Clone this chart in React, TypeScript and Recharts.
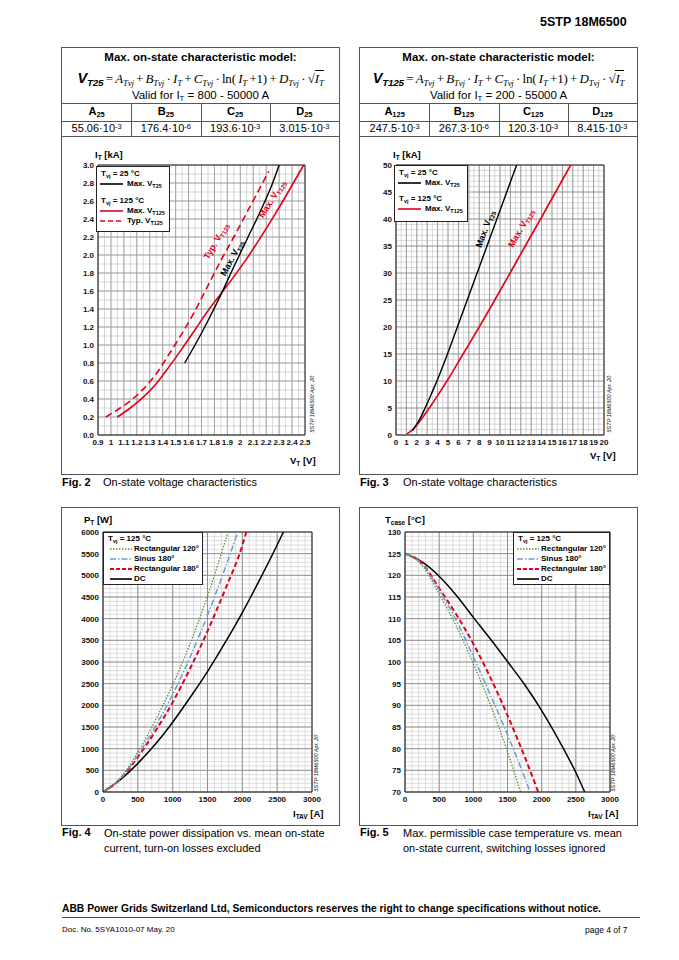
import React from 'react';
import { LineChart, Line, XAxis, YAxis, ReferenceLine } from 'recharts';

const FONT = '"Liberation Sans", Arial, Helvetica, sans-serif';
const SERIF = '"Liberation Serif", "Times New Roman", serif';
const RED = '#e2001a';
const GREEN = '#5f8f3c';
const BLUE = '#6f9bd1';

type Pt = [number, number];

// Fig. 2: on-state voltage V_T [V] vs I_T [kA], low current range
const fig2MaxT25: Pt[] = [
  [1.57, 0.8], [1.65, 1.0], [1.75, 1.27], [1.85, 1.56], [1.95, 1.87], [2.05, 2.17], [2.15, 2.47],
  [2.25, 2.8], [2.3, 3.0],
];
const fig2MaxT125: Pt[] = [
  [1.05, 0.2], [1.15, 0.3], [1.25, 0.42], [1.35, 0.57], [1.45, 0.76], [1.55, 0.96], [1.65, 1.17],
  [1.75, 1.38], [1.85, 1.57], [1.95, 1.76], [2.05, 1.96], [2.15, 2.18], [2.25, 2.41], [2.35, 2.65],
  [2.45, 2.9], [2.49, 3.0],
];
const fig2TypT125: Pt[] = [
  [0.96, 0.2], [1.05, 0.28], [1.15, 0.38], [1.25, 0.51], [1.35, 0.68], [1.45, 0.9], [1.55, 1.13],
  [1.65, 1.38], [1.75, 1.66], [1.85, 1.94], [1.95, 2.2], [2.05, 2.47], [2.15, 2.74], [2.22, 2.93],
];
const fig2VTicks = [0.9, 1, 1.1, 1.2, 1.3, 1.4, 1.5, 1.6, 1.7, 1.8, 1.9, 2, 2.1, 2.2, 2.3, 2.4, 2.5];
const fig2ITicks = [0, 0.2, 0.4, 0.6, 0.8, 1, 1.2, 1.4, 1.6, 1.8, 2, 2.2, 2.4, 2.6, 2.8, 3];

// Fig. 3: full current range
const fig3MaxT25: Pt[] = [
  [1.57, 0.8], [2.0, 2.0], [2.3, 3.0], [2.8, 5.0], [3.4, 7.6], [4.0, 10.3], [4.95, 15], [5.9, 20],
  [6.85, 25], [7.8, 30], [8.75, 35], [9.7, 40], [10.65, 45], [11.6, 50],
];
const fig3MaxT125: Pt[] = [
  [1.05, 0.2], [1.6, 1.0], [2.07, 2.0], [2.47, 3.0], [3.2, 5.0], [4.0, 7.3], [4.9, 10], [6.45, 15],
  [8.0, 20], [9.5, 25], [10.97, 30], [12.43, 35], [13.9, 40], [15.35, 45], [16.8, 50],
];
const fig3VTicks = [0, 1, 2, 3, 4, 5, 6, 7, 8, 9, 10, 11, 12, 13, 14, 15, 16, 17, 18, 19, 20];
const fig3ITicks = [0, 5, 10, 15, 20, 25, 30, 35, 40, 45, 50];

// Fig. 4: P_T [W] vs I_TAV [A]
const fig4Rect120: Pt[] = [
  [0, 0], [250, 330], [500, 920], [750, 1650], [1000, 2470], [1250, 3420], [1500, 4520], [1794, 6000],
];
const fig4Sin180: Pt[] = [
  [0, 0], [250, 310], [500, 850], [750, 1510], [1000, 2250], [1250, 3110], [1500, 4080], [1750, 5150], [1935, 6000],
];
const fig4Rect180: Pt[] = [
  [0, 0], [250, 300], [500, 806], [750, 1400], [1000, 2070], [1250, 2850], [1500, 3710], [1750, 4660],
  [2000, 5690], [2057, 6000],
];
const fig4Dc: Pt[] = [
  [0, 0], [250, 285], [500, 660], [750, 1100], [1000, 1610], [1250, 2180], [1500, 2780], [1750, 3440],
  [2000, 4140], [2250, 4900], [2500, 5700], [2590, 6000],
];
const fig4ITicks = [0, 500, 1000, 1500, 2000, 2500, 3000];
const fig4PTicks = [0, 500, 1000, 1500, 2000, 2500, 3000, 3500, 4000, 4500, 5000, 5500, 6000];

// Fig. 5: T_case [°C] vs I_TAV [A]
const fig5Rect120: Pt[] = [
  [0, 125], [250, 122.3], [500, 115.7], [750, 108.3], [1000, 99.6], [1250, 90.1], [1500, 79.3], [1690, 70],
];
const fig5Sin180: Pt[] = [
  [0, 125], [250, 122.6], [500, 116.6], [750, 109.6], [1000, 101.2], [1250, 92.4], [1500, 83.2], [1750, 73.4], [1830, 70],
];
const fig5Rect180: Pt[] = [
  [0, 125], [250, 122.8], [500, 117], [750, 111], [1000, 104.2], [1250, 96.4], [1500, 87.7], [1750, 78.2], [1950, 70],
];
const fig5Dc: Pt[] = [
  [0, 125], [250, 123.1], [500, 119.8], [750, 115.4], [1000, 110.3], [1250, 105.3], [1500, 100.1],
  [1750, 94.8], [2000, 88.8], [2250, 82], [2500, 74.5], [2630, 70],
];
const fig5ITicks = [0, 500, 1000, 1500, 2000, 2500, 3000];
const fig5TTicks = [70, 75, 80, 85, 90, 95, 100, 105, 110, 115, 120, 125, 130];

// model coefficients
const coefNames = ['A', 'B', 'C', 'D'];
const coef25: [string, string][] = [['55.06', '-3'], ['176.4', '-6'], ['193.6', '-3'], ['3.015', '-3']];
const coef125: [string, string][] = [['247.5', '-3'], ['267.3', '-6'], ['120.3', '-3'], ['8.415', '-3']];

const tickStyle = { fontSize: 8, fontWeight: 700, fill: '#111', fontFamily: FONT };

function gridValues(from: number, to: number, step: number) {
  const out: number[] = [];
  const n = Math.round((to - from) / step);
  for (let k = 0; k <= n; k++) out.push(Math.round((from + k * step) * 1000) / 1000);
  return out;
}

const Sub = ({ children }: { children: React.ReactNode }) => (
  <span style={{ fontSize: '0.68em', position: 'relative', top: '0.3em' }}>{children}</span>
);
const Sup = ({ children }: { children: React.ReactNode }) => (
  <span style={{ fontSize: '0.68em', position: 'relative', top: '-0.45em' }}>{children}</span>
);

interface SeriesDef { pts: Pt[]; color: string; dash?: string; width?: number }

interface PlotProps {
  left: number; top: number; width: number; height: number;
  margin: { top: number; right: number; bottom: number; left: number };
  yAxisWidth: number; xAxisHeight: number;
  xDomain: [number, number]; yDomain: [number, number];
  xTicks: number[]; yTicks: number[];
  xFmt: (v: number) => string; yFmt: (v: number) => string;
  minorX: number; majorX: number; minorY: number; majorY: number;
  minorColor: string; majorColor: string;
  series: SeriesDef[];
}

function Plot(p: PlotProps) {
  const vx = gridValues(p.xDomain[0], p.xDomain[1], p.minorX);
  const vX = gridValues(p.xDomain[0], p.xDomain[1], p.majorX);
  const hy = gridValues(p.yDomain[0], p.yDomain[1], p.minorY);
  const hY = gridValues(p.yDomain[0], p.yDomain[1], p.majorY);
  return (
    <div style={{ position: 'absolute', left: p.left, top: p.top }}>
      <LineChart width={p.width} height={p.height} margin={p.margin}>
        <XAxis type="number" dataKey="x" domain={p.xDomain} ticks={p.xTicks} tickFormatter={p.xFmt}
          interval={0} allowDataOverflow axisLine={{ stroke: '#222' }} tickLine={false} tickSize={0}
          tickMargin={4} height={p.xAxisHeight} tick={tickStyle} />
        <YAxis type="number" dataKey="y" domain={p.yDomain} ticks={p.yTicks} tickFormatter={p.yFmt}
          interval={0} allowDataOverflow axisLine={{ stroke: '#222' }} tickLine={false} tickSize={0}
          tickMargin={4} width={p.yAxisWidth} tick={tickStyle} />
        {vx.map((v) => <ReferenceLine key={'vx' + v} x={v} stroke={p.minorColor} strokeWidth={0.6} />)}
        {hy.map((v) => <ReferenceLine key={'hy' + v} y={v} stroke={p.minorColor} strokeWidth={0.6} />)}
        {vX.map((v) => <ReferenceLine key={'vX' + v} x={v} stroke={p.majorColor} strokeWidth={0.8} />)}
        {hY.map((v) => <ReferenceLine key={'hY' + v} y={v} stroke={p.majorColor} strokeWidth={0.8} />)}
        <ReferenceLine x={p.xDomain[1]} stroke="#333" strokeWidth={1} />
        <ReferenceLine y={p.yDomain[1]} stroke="#333" strokeWidth={1} />
        {p.series.map((s, i) => (
          <Line key={i} data={s.pts.map(([x, y]) => ({ x, y }))} dataKey="y" type="monotone"
            stroke={s.color} strokeWidth={s.width ?? 1.5} strokeDasharray={s.dash} dot={false}
            isAnimationActive={false} />
        ))}
      </LineChart>
    </div>
  );
}

interface LegendRow { head?: boolean; label: React.ReactNode; y: number; color?: string; dash?: string; width?: number }

function LegendBox({ left, top, width, height, rows, s0, s1, tx }: {
  left: number; top: number; width: number; height: number; rows: LegendRow[]; s0: number; s1: number; tx: number;
}) {
  return (
    <div style={{ position: 'absolute', left, top, width, height, background: '#fff', border: '1px solid #222', boxSizing: 'border-box' }}>
      <svg width={width} height={height} style={{ position: 'absolute', left: -1, top: -1 }}>
        {rows.filter((r) => !r.head).map((r, i) => (
          <line key={i} x1={s0} x2={s1} y1={r.y} y2={r.y} stroke={r.color} strokeWidth={r.width ?? 1.6} strokeDasharray={r.dash} />
        ))}
      </svg>
      {rows.map((r, i) => (
        <div key={i} style={{ position: 'absolute', left: (r.head ? 5 : tx) - 1, top: r.y - 7, lineHeight: '12px', fontSize: 8, fontWeight: 700, whiteSpace: 'nowrap' }}>
          {r.label}
        </div>
      ))}
    </div>
  );
}

function Abs({ x, y, children, style }: { x: number; y: number; children: React.ReactNode; style?: React.CSSProperties }) {
  return <div style={{ position: 'absolute', left: x, top: y, whiteSpace: 'nowrap', ...style }}>{children}</div>;
}

function Rot({ x, y, deg, children, style }: { x: number; y: number; deg: number; children: React.ReactNode; style?: React.CSSProperties }) {
  return (
    <div style={{ position: 'absolute', left: x, top: y, whiteSpace: 'nowrap', transform: `translate(-50%, -50%) rotate(${deg}deg)`, ...style }}>
      {children}
    </div>
  );
}

function Formula({ name }: { name: string }) {
  const it: React.CSSProperties = { fontFamily: SERIF, fontStyle: 'italic' };
  const up: React.CSSProperties = { fontFamily: SERIF, fontStyle: 'normal' };
  const t = '\u2009';
  return (
    <div style={{ fontSize: 13, whiteSpace: 'nowrap', textAlign: 'center', lineHeight: '18px', letterSpacing: '-0.2px' }}>
      <span style={{ fontFamily: FONT, fontStyle: 'italic', fontWeight: 700, fontSize: 14.5 }}>V<Sub>{name}</Sub></span>
      <span style={up}>{t}={t}</span>
      <span style={it}>A<Sub>Tvj</Sub></span><span style={up}>{t}+{t}</span>
      <span style={it}>B<Sub>Tvj</Sub></span><span style={up}>{t}·{t}</span><span style={it}>I<Sub>T</Sub></span>
      <span style={up}>{t}+{t}</span><span style={it}>C<Sub>Tvj</Sub></span><span style={up}>{t}·{t}ln(</span>
      <span style={it}>{t}I<Sub>T</Sub></span><span style={up}>{t}+1){t}+{t}</span>
      <span style={it}>D<Sub>Tvj</Sub></span><span style={up}>{t}·{t}√</span>
      <span style={{ ...it, borderTop: '1px solid #000' }}>I<Sub>T</Sub></span>
    </div>
  );
}

function ModelBox({ left, name, temp, range, coefs }: { left: number; name: string; temp: string; range: string; coefs: [string, string][] }) {
  const colW = 277 / 4;
  return (
    <div style={{ position: 'absolute', left, top: 47, width: 279, height: 428, border: '1px solid #555', boxSizing: 'border-box' }}>
      <div style={{ position: 'absolute', left: 0, right: 0, top: 3, textAlign: 'center', fontSize: 11.5, fontWeight: 700 }}>
        Max. on-state characteristic model:
      </div>
      <div style={{ position: 'absolute', left: 0, right: 0, top: 21 }}><Formula name={name} /></div>
      <div style={{ position: 'absolute', left: 0, right: 0, top: 41, textAlign: 'center', fontSize: 11.5 }}>
        Valid for I<Sub>T</Sub> = {range} A
      </div>
      <div style={{ position: 'absolute', left: 0, right: 0, top: 55, borderTop: '1px solid #555' }} />
      <div style={{ position: 'absolute', left: 0, right: 0, top: 73, borderTop: '1px solid #555' }} />
      <div style={{ position: 'absolute', left: 0, right: 0, top: 88, borderTop: '1px solid #555' }} />
      {coefNames.map((n, i) => (
        <React.Fragment key={n}>
          {i > 0 && <div style={{ position: 'absolute', left: i * colW, top: 55, height: 33, borderLeft: '1px solid #555' }} />}
          <div style={{ position: 'absolute', left: i * colW, width: colW, top: 57, textAlign: 'center', fontSize: 11, fontWeight: 700 }}>
            {n}<Sub>{temp}</Sub>
          </div>
          <div style={{ position: 'absolute', left: i * colW, width: colW, top: 74, textAlign: 'center', fontSize: 11 }}>
            {coefs[i][0]}·10<Sup>{coefs[i][1]}</Sup>
          </div>
        </React.Fragment>
      ))}
    </div>
  );
}

const fmt1 = (v: number) => (Number.isInteger(v) ? String(v) : v.toFixed(1));
const fmtFixed1 = (v: number) => v.toFixed(1);
const fmtInt = (v: number) => String(v);

const axisTitle: React.CSSProperties = { fontSize: 9.5, fontWeight: 700 };
const stamp: React.CSSProperties = { fontSize: 5.5, fontStyle: 'italic' };

export default function App() {
  return (
    <div style={{ position: 'absolute', left: 0, top: 0, width: 679, height: 960, background: '#fff', fontFamily: FONT, color: '#000', overflow: 'hidden' }}>
      <Abs x={540} y={15} style={{ fontSize: 12.5, fontWeight: 700 }}>5STP 18M6500</Abs>

      <ModelBox left={61} name="T25" temp="25" range="800 - 50000" coefs={coef25} />
      <ModelBox left={359} name="T125" temp="125" range="200 - 55000" coefs={coef125} />

      {/* Fig. 2 */}
      <Plot left={61} top={140} width={279} height={335} margin={{ top: 25, right: 35, bottom: 20, left: 5 }}
        yAxisWidth={32} xAxisHeight={20} xDomain={[0.9, 2.5]} yDomain={[0, 3]} xTicks={fig2VTicks} yTicks={fig2ITicks}
        xFmt={fmt1} yFmt={fmtFixed1} minorX={0.05} majorX={0.1} minorY={0.1} majorY={0.2}
        minorColor="#bdbdbd" majorColor="#9a9a9a"
        series={[
          { pts: fig2TypT125, color: RED, dash: '7 4', width: 1.6 },
          { pts: fig2MaxT125, color: RED, width: 1.6 },
          { pts: fig2MaxT25, color: '#000', width: 1.4 },
        ]} />
      <Abs x={95} y={149} style={axisTitle}>I<Sub>T</Sub> [kA]</Abs>
      <Abs x={290} y={455} style={axisTitle}>V<Sub>T</Sub> [V]</Abs>
      <Rot x={312} y={404} deg={-90} style={stamp}>5STP 18M6500 Apr. 20</Rot>
      <Rot x={216} y={241} deg={-60} style={{ fontSize: 9, fontWeight: 700, color: RED }}>Typ. V<Sub>T125</Sub></Rot>
      <Rot x={232} y={258} deg={-62} style={{ fontSize: 9, fontWeight: 700 }}>Max. V<Sub>T25</Sub></Rot>
      <Rot x={272} y={199} deg={-58} style={{ fontSize: 9, fontWeight: 700, color: RED }}>Max. V<Sub>T125</Sub></Rot>
      <LegendBox left={96} top={166} width={74} height={66} s0={4} s1={27} tx={31}
        rows={[
          { head: true, label: <>T<Sub>vj</Sub> = 25 °C</>, y: 8 },
          { label: <>Max. V<Sub>T25</Sub></>, y: 18, color: '#000' },
          { head: true, label: <>T<Sub>vj</Sub> = 125 °C</>, y: 35 },
          { label: <>Max. V<Sub>T125</Sub></>, y: 45, color: RED },
          { label: <>Typ. V<Sub>T125</Sub></>, y: 55, color: RED, dash: '5 3' },
        ]} />
      <Abs x={62} y={476} style={{ fontSize: 11 }}><b>Fig. 2</b></Abs>
      <Abs x={103} y={476} style={{ fontSize: 11 }}>On-state voltage characteristics</Abs>

      {/* Fig. 3 */}
      <Plot left={359} top={140} width={279} height={335} margin={{ top: 25, right: 34, bottom: 20, left: 5 }}
        yAxisWidth={32} xAxisHeight={20} xDomain={[0, 20]} yDomain={[0, 50]} xTicks={fig3VTicks} yTicks={fig3ITicks}
        xFmt={fmtInt} yFmt={fmtInt} minorX={0.5} majorX={1} minorY={1} majorY={5}
        minorColor="#bdbdbd" majorColor="#8f8f8f"
        series={[
          { pts: fig3MaxT125, color: RED, width: 1.6 },
          { pts: fig3MaxT25, color: '#000', width: 1.4 },
        ]} />
      <Abs x={393} y={149} style={axisTitle}>I<Sub>T</Sub> [kA]</Abs>
      <Abs x={590} y={450} style={axisTitle}>V<Sub>T</Sub> [V]</Abs>
      <Rot x={609} y={404} deg={-90} style={stamp}>5STP 18M6500 Apr. 20</Rot>
      <Rot x={485} y={229} deg={-70} style={{ fontSize: 9, fontWeight: 700 }}>Max. V<Sub>T25</Sub></Rot>
      <Rot x={521} y={228} deg={-60} style={{ fontSize: 9, fontWeight: 700, color: RED }}>Max. V<Sub>T125</Sub></Rot>
      <LegendBox left={394} top={165} width={74} height={57} s0={4} s1={27} tx={31}
        rows={[
          { head: true, label: <>T<Sub>vj</Sub> = 25 °C</>, y: 8 },
          { label: <>Max. V<Sub>T25</Sub></>, y: 18, color: '#000' },
          { head: true, label: <>T<Sub>vj</Sub> = 125 °C</>, y: 34 },
          { label: <>Max. V<Sub>T125</Sub></>, y: 44, color: RED },
        ]} />
      <Abs x={360} y={476} style={{ fontSize: 11 }}><b>Fig. 3</b></Abs>
      <Abs x={403} y={476} style={{ fontSize: 11 }}>On-state voltage characteristics</Abs>

      {/* Fig. 4 */}
      <div style={{ position: 'absolute', left: 61, top: 507, width: 279, height: 319, border: '1px solid #555', boxSizing: 'border-box' }} />
      <Plot left={61} top={507} width={279} height={318} margin={{ top: 25, right: 28, bottom: 15, left: 6 }}
        yAxisWidth={36} xAxisHeight={18} xDomain={[0, 3000]} yDomain={[0, 6000]} xTicks={fig4ITicks} yTicks={fig4PTicks}
        xFmt={fmtInt} yFmt={fmtInt} minorX={100} majorX={500} minorY={100} majorY={500}
        minorColor="#c8c8c8" majorColor="#7d7d7d"
        series={[
          { pts: fig4Dc, color: '#000', width: 1.5 },
          { pts: fig4Rect180, color: RED, dash: '5 3', width: 2 },
          { pts: fig4Sin180, color: BLUE, dash: '6 2 1.5 2', width: 1.5 },
          { pts: fig4Rect120, color: GREEN, dash: '1.5 1.5', width: 1.3 },
        ]} />
      <Abs x={84} y={514} style={axisTitle}>P<Sub>T</Sub> [W]</Abs>
      <Abs x={293} y={808} style={axisTitle}>I<Sub>TAV</Sub> [A]</Abs>
      <Rot x={316} y={763} deg={-90} style={stamp}>5STP 18M6500 Apr. 20</Rot>
      <LegendBox left={103} top={532} width={100} height={53} s0={7} s1={29} tx={31}
        rows={[
          { head: true, label: <>T<Sub>vj</Sub> = 125 °C</>, y: 7 },
          { label: 'Rectangular 120°', y: 17, color: GREEN, dash: '1.5 1.5', width: 1.3 },
          { label: 'Sinus 180°', y: 27, color: BLUE, dash: '6 2 1.5 2' },
          { label: 'Rectangular 180°', y: 37, color: RED, dash: '4 2', width: 2 },
          { label: 'DC', y: 47, color: '#000' },
        ]} />
      <Abs x={62} y={826} style={{ fontSize: 11 }}><b>Fig. 4</b></Abs>
      <Abs x={104} y={826} style={{ fontSize: 11, lineHeight: '15px' }}>On-state power dissipation vs. mean on-state<br />current, turn-on losses excluded</Abs>

      {/* Fig. 5 */}
      <div style={{ position: 'absolute', left: 359, top: 507, width: 279, height: 319, border: '1px solid #555', boxSizing: 'border-box' }} />
      <Plot left={359} top={507} width={279} height={318} margin={{ top: 25, right: 28, bottom: 15, left: 14 }}
        yAxisWidth={32} xAxisHeight={18} xDomain={[0, 3000]} yDomain={[70, 130]} xTicks={fig5ITicks} yTicks={fig5TTicks}
        xFmt={fmtInt} yFmt={fmtInt} minorX={100} majorX={500} minorY={1} majorY={5}
        minorColor="#c8c8c8" majorColor="#7d7d7d"
        series={[
          { pts: fig5Dc, color: '#000', width: 1.5 },
          { pts: fig5Rect180, color: RED, dash: '5 3', width: 2 },
          { pts: fig5Sin180, color: BLUE, dash: '6 2 1.5 2', width: 1.5 },
          { pts: fig5Rect120, color: GREEN, dash: '1.5 1.5', width: 1.3 },
        ]} />
      <Abs x={385} y={514} style={axisTitle}>T<Sub>case</Sub> [°C]</Abs>
      <Abs x={588} y={808} style={axisTitle}>I<Sub>TAV</Sub> [A]</Abs>
      <Rot x={613} y={763} deg={-90} style={stamp}>5STP 18M6500 Apr. 20</Rot>
      <LegendBox left={513} top={532} width={97} height={53} s0={4} s1={26} tx={28}
        rows={[
          { head: true, label: <>T<Sub>vj</Sub> = 125 °C</>, y: 7 },
          { label: 'Rectangular 120°', y: 17, color: GREEN, dash: '1.5 1.5', width: 1.3 },
          { label: 'Sinus 180°', y: 27, color: BLUE, dash: '6 2 1.5 2' },
          { label: 'Rectangular 180°', y: 37, color: RED, dash: '4 2', width: 2 },
          { label: 'DC', y: 47, color: '#000' },
        ]} />
      <Abs x={360} y={826} style={{ fontSize: 11 }}><b>Fig. 5</b></Abs>
      <Abs x={403} y={826} style={{ fontSize: 11, lineHeight: '15px' }}>Max. permissible case temperature vs. mean<br />on-state current, switching losses ignored</Abs>

      {/* footer */}
      <Abs x={62} y={903} style={{ fontSize: 10.3, fontWeight: 700 }}>
        ABB Power Grids Switzerland Ltd, Semiconductors reserves the right to change specifications without notice.
      </Abs>
      <div style={{ position: 'absolute', left: 62, top: 917, width: 578, borderTop: '1px solid #444' }} />
      <Abs x={62} y={925} style={{ fontSize: 8 }}>Doc. No. 5SYA1010-07 May. 20</Abs>
      <Abs x={585} y={925} style={{ fontSize: 8.5 }}>page 4 of 7</Abs>
    </div>
  );
}
